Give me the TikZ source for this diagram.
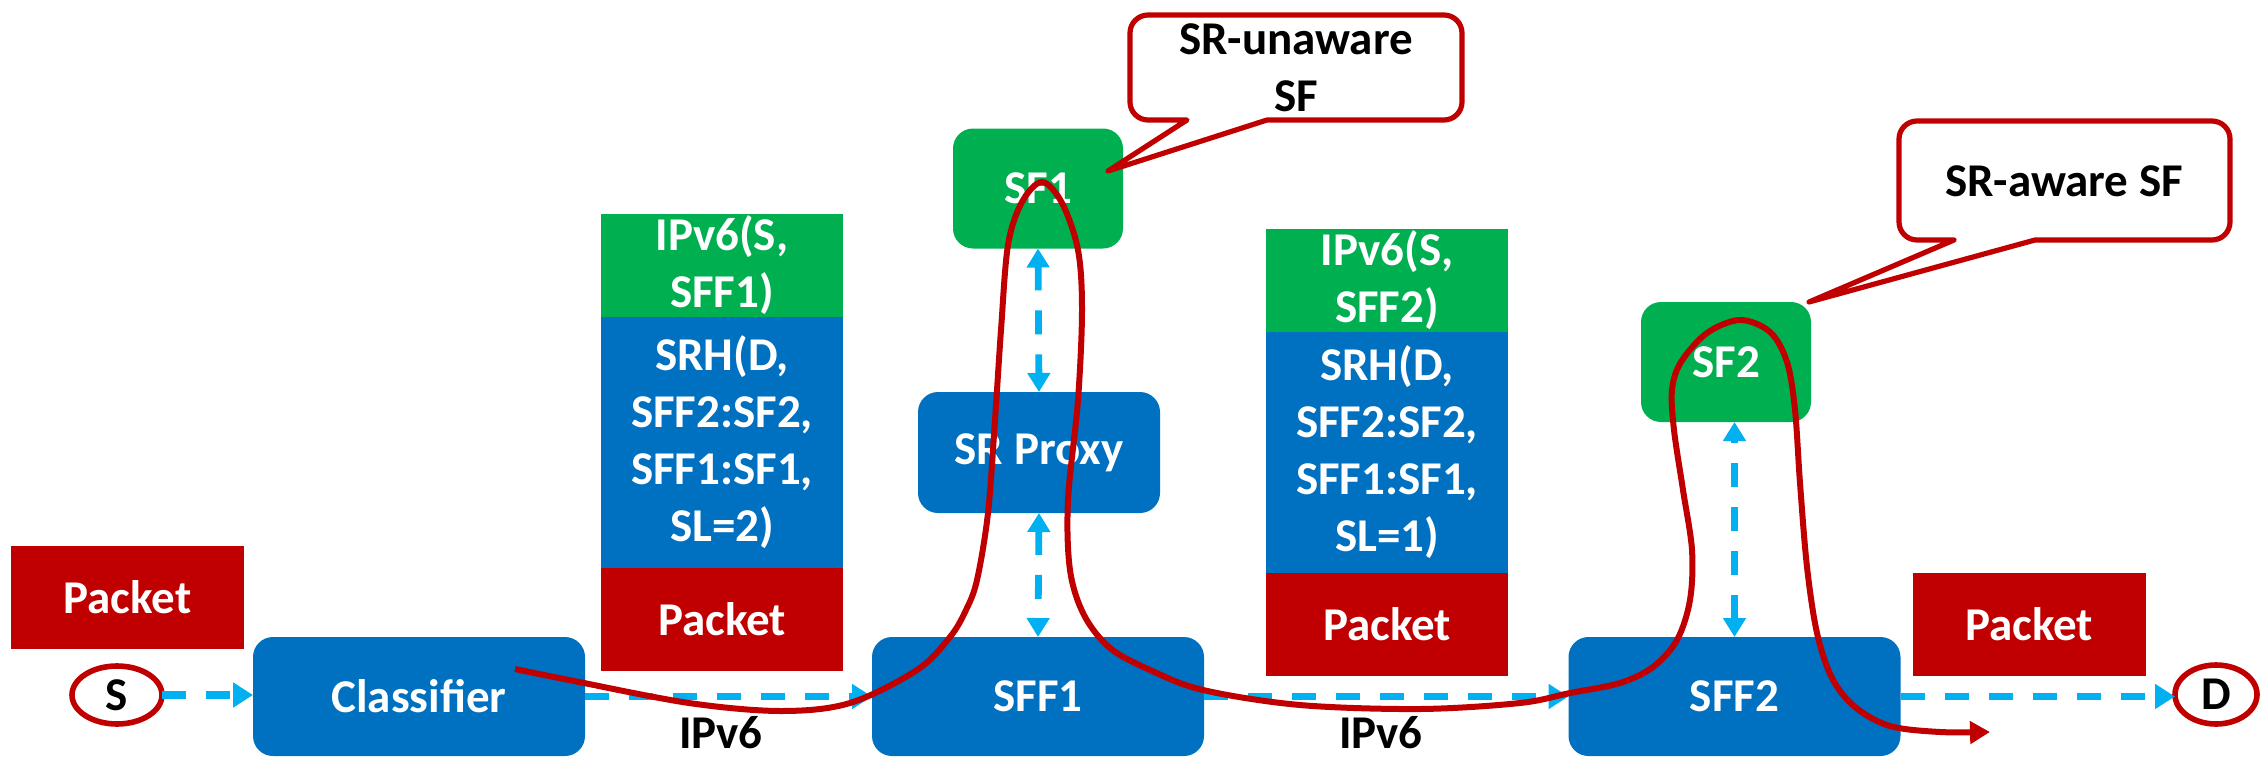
\documentclass[tikz,border=0pt]{standalone}
\usepackage{fontspec}
\setmainfont{Carlito}
\usetikzlibrary{arrows.meta,shapes.geometric}
\definecolor{cblue}{HTML}{0070C0}
\definecolor{cgreen}{HTML}{00B050}
\definecolor{cred}{HTML}{C00000}
\definecolor{carrow}{HTML}{00B0F0}
\begin{document}
\begin{tikzpicture}[x=0.5pt,y=-0.5pt,
  lbl/.style={font=\fontsize{23.5}{28.5}\selectfont\bfseries, align=center, inner sep=0pt, outer sep=0pt},
  box/.style={lbl, text=white, rounded corners=10pt},
  bigbox/.style={box, fill=cblue, minimum width=166pt, minimum height=59.5pt},
  proxybox/.style={box, fill=cblue, minimum width=121pt, minimum height=60.5pt},
  sfbox/.style={box, fill=cgreen, minimum width=85pt, minimum height=60pt},
  pktbox/.style={lbl, text=white, fill=cred, minimum width=116.5pt, minimum height=51.5pt},
  band/.style={lbl, text=white, minimum width=121pt},
  endpt/.style={lbl, ellipse, draw=cred, line width=2.8pt, fill=white, text=black},
  hflow/.style={carrow, line width=3.8pt, dash pattern=on 12pt off 10pt, -{Triangle[length=10pt,width=12pt]}},
  vflow/.style={carrow, line width=3.4pt, dash pattern=on 12pt off 10pt, {Triangle[length=9.5pt,width=11pt]}-{Triangle[length=9.5pt,width=11pt]}},
  callout/.style={draw=cred, line width=2.6pt, fill=white, line join=round},
  route/.style={cred, line width=3pt, -{Triangle[length=10pt,width=11pt]}}
]
\useasboundingbox (0,0) rectangle (2261,756);
\clip (0,0) rectangle (2261,756);

% endpoints and standalone packets
\node[pktbox] (pktL) at (127.5,597.5) {Packet};
\node[pktbox] (pktR) at (2029,624.5) {Packet};
\node[endpt, minimum width=45pt, minimum height=29pt] (S) at (117,695) {S};
\node[endpt, minimum width=41pt, minimum height=29.5pt] (D) at (2216,694.5) {D};

% main boxes
\node[bigbox] (cls) at (419,696.5) {Classifier};
\node[bigbox] (sff1) at (1038,696.5) {SFF1};
\node[bigbox] (sff2) at (1734.5,696.5) {SFF2};
\node[proxybox] (proxy) at (1039,452.5) {SR Proxy};
\node[sfbox] (sf1) at (1038,188.5) {SF1};
\node[sfbox] (sf2) at (1726,362) {SF2};

% header stack 1
\node[band, fill=cgreen, minimum height=51.5pt] (h1a) at (722,265.5) {IPv6(S,\\SFF1)};
\node[band, fill=cblue, minimum height=125.5pt] (h1b) at (722,442.5) {SRH(D,\\SFF2:SF2,\\SFF1:SF1,\\SL=2)};
\node[band, fill=cred, minimum height=51.5pt] (h1c) at (722,619.5) {Packet};

% header stack 2
\node[band, fill=cgreen, minimum height=51.5pt] (h2a) at (1387,280.5) {IPv6(S,\\SFF2)};
\node[band, fill=cblue, minimum height=120.5pt] (h2b) at (1387,452.5) {SRH(D,\\SFF2:SF2,\\SFF1:SF1,\\SL=1)};
\node[band, fill=cred, minimum height=51.5pt] (h2c) at (1387,624.5) {Packet};

% link labels
\node[lbl, anchor=base] (ip1) at (721,748) {IPv6};
\node[lbl, anchor=base] (ip2) at (1381,748) {IPv6};

% dashed connectors
\draw[hflow] (S.east) -- (S.east -| cls.west);
\draw[hflow] (cls.east) -- (sff1.west);
\draw[hflow] (sff1.east) -- (sff2.west);
\draw[hflow] (sff2.east) -- (sff2.east -| D.west);
\draw[vflow] (sf1.south) -- (proxy.north);
\draw[vflow] (proxy.south) -- (sff1.north);
\draw[vflow] (sff2.north) -- (sff2.north |- sf2.south);

% callouts
\draw[callout] (1267,120) [rounded corners=9pt] -- (1462,120) -- (1462,15) -- (1130,15) -- (1130,120) [sharp corners] -- (1187,120) -- (1108,171) -- cycle;
\node[lbl] (c1) at (1296,68) {SR-unaware\\SF};
\draw[callout] (2035,240) [rounded corners=9pt] -- (2230,240) -- (2230,121) -- (1899,121) -- (1899,240) [sharp corners] -- (1954,240) -- (1809,302) -- cycle;
\node[lbl] (c2) at (2064,181) {SR-aware SF};

% packet route
\draw[route] plot[smooth, tension=0.55] coordinates {
 (515,669) (574,681) (689,703) (781,711) (850,703) (917,670) (950,637)
 (966,610) (977,580) (988,513) (995,420) (1001,330) (1008,245) (1022,202)
 (1042,182) (1062,203) (1078,250) (1082,310) (1078,400) (1068,500)
 (1070,570) (1084,615) (1110,648) (1150,670) (1203,690) (1300,705)
 (1420,709) (1520,703) (1570,693) (1620,683) (1653,667) (1677,640)
 (1690,600) (1692,550) (1683,490) (1674,430) (1672,390) (1681,362)
 (1707,333) (1740,320) (1770,332) (1787,362) (1795,410) (1800,483)
 (1807,567) (1817,633) (1832,678) (1855,707) (1890,726) (1940,732) (1990,732)};
\end{tikzpicture}
\end{document}
